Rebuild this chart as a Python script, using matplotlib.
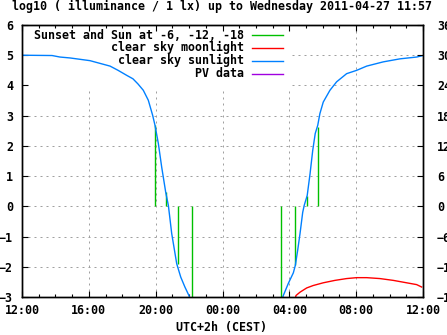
import matplotlib.pyplot as plt
from matplotlib.patches import Rectangle
from matplotlib.ticker import MultipleLocator

plt.rcParams['font.family'] = 'DejaVu Sans Mono'
plt.rcParams['font.weight'] = 'bold'
plt.rcParams['font.size'] = 8.4

# time axis: hours after 12:00 (2011-04-26 12:00 .. 2011-04-27 12:00)
sun_t = [0.0, 1.8, 2.27, 2.87, 4.07, 5.27, 5.75, 6.28, 6.64, 6.94, 7.26, 7.56,
         7.82, 7.96, 8.16, 8.36, 8.60, 8.76, 8.96, 9.26, 9.50, 9.75, 9.99, 10.3,
         15.4, 15.64, 15.94, 16.24, 16.36, 16.50, 16.64, 16.80, 16.89, 17.07, 17.24,
         17.40, 17.55, 17.70, 17.83, 18.03, 18.43, 18.83, 19.43, 20.03, 20.63,
         21.62, 22.62, 23.62, 24.0]
sun_v = [5.0, 4.99, 4.94, 4.91, 4.82, 4.64, 4.5, 4.33, 4.22, 4.05, 3.84, 3.51,
         3.01, 2.68, 2.08, 1.30, 0.47, 0.03, -0.90, -1.90, -2.34, -2.67, -2.95, -3.4,
         -3.4, -2.95, -2.55, -2.2, -1.95, -1.45, -0.9, -0.2, 0.03, 0.36, 1.08,
         1.85, 2.41, 2.68, 3.07, 3.45, 3.84, 4.12, 4.39, 4.5, 4.64,
         4.78, 4.88, 4.94, 4.99]

moon_t = [16.2, 16.40, 16.64, 17.04, 17.43, 18.03, 18.73, 19.43, 20.03, 20.63,
          21.42, 22.22, 23.02, 23.62, 23.92]
moon_v = [-3.4, -2.95, -2.84, -2.70, -2.62, -2.53, -2.45, -2.39, -2.36, -2.36,
          -2.39, -2.45, -2.53, -2.59, -2.67]
moon_prev_t = [0.0, 0.12]
moon_prev_v = [-2.96, -3.2]

# sunset and sun at -6, -12, -18 (evening and morning)
twi_t = [7.98, 8.60, 9.32, 10.19, 15.48, 16.36, 17.07, 17.70]
twi_v = [2.68, 0.47, -1.9, -3.5, -3.5, -1.95, 0.35, 2.62]

x_ticks = [0, 4, 8, 12, 16, 20, 24]
x_labels = ['12:00', '16:00', '20:00', '00:00', '04:00', '08:00', '12:00']
y_ticks = [-3, -2, -1, 0, 1, 2, 3, 4, 5, 6]
y2_ticks = [-18, -12, -6, 0, 6, 12, 18, 24, 30, 36]

legend_labels = ['Sunset and Sun at -6, -12, -18', 'clear sky moonlight',
                 'clear sky sunlight', 'PV data']
colors = ['#00c000', '#ff0000', '#0080ff', '#a000e0']

fig = plt.figure(figsize=(4.47, 3.35), dpi=100)
ax = fig.add_axes([22 / 447, 38 / 335, 401 / 447, 272 / 335])
ax.set_xlim(0, 24)
ax.set_ylim(-3, 6)

grid_kw = dict(color='#a0a0a0', linestyle=(0, (2, 4)), linewidth=0.72, zorder=0.5)
for t in x_ticks[1:-1]:
    ax.axvline(t, **grid_kw)
for v in y_ticks[1:-1]:
    ax.axhline(v, **grid_kw)

# opaque key box hides the grid but not the curves
ax.add_patch(Rectangle((0, 0.765), 0.668, 0.235, transform=ax.transAxes,
                       facecolor='white', edgecolor='none', zorder=1))

ax.vlines(twi_t, 0, twi_v, color=colors[0], linewidth=1.0, zorder=2)
ax.plot(moon_prev_t, moon_prev_v, color=colors[1], linewidth=1.0, zorder=2)
ax.plot(moon_t, moon_v, color=colors[1], linewidth=1.0, zorder=2)
ax.plot(sun_t, sun_v, color=colors[2], linewidth=1.0, zorder=2)

rows = [0.962, 0.917, 0.868, 0.821]
for lab, col, yy in zip(legend_labels, colors, rows):
    ax.text(0.554, yy, lab, transform=ax.transAxes, ha='right', va='center', zorder=3)
    ax.plot([0.574, 0.651], [yy, yy], transform=ax.transAxes, color=col,
            linewidth=1.0, zorder=3)

ax.set_xticks(x_ticks)
ax.set_xticklabels(x_labels)
ax.xaxis.set_minor_locator(MultipleLocator(1))
ax.set_yticks(y_ticks)
ax.tick_params(axis='x', which='major', direction='in', length=4, width=0.8,
               top=True, pad=5)
ax.tick_params(axis='x', which='minor', direction='in', length=2.5, width=0.8,
               top=True)
ax.tick_params(axis='y', which='major', direction='in', length=4, width=0.8,
               right=False, pad=6.5)
for s in ax.spines.values():
    s.set_linewidth(1.0)

ax2 = ax.twinx()
ax2.set_ylim(-18, 36)
ax2.set_yticks(y2_ticks)
ax2.tick_params(axis='y', direction='in', length=4, width=0.8, pad=10)
for s in ax2.spines.values():
    s.set_linewidth(1.0)

fig.text(221.5 / 447, 1 - 6 / 335,
         'log10 ( illuminance / 1 lx) up to Wednesday 2011-04-27 11:57',
         ha='center', va='center')
fig.text(222 / 447, 1 - 327 / 335, 'UTC+2h (CEST)', ha='center', va='center')

fig.savefig('out.png', dpi=100)
